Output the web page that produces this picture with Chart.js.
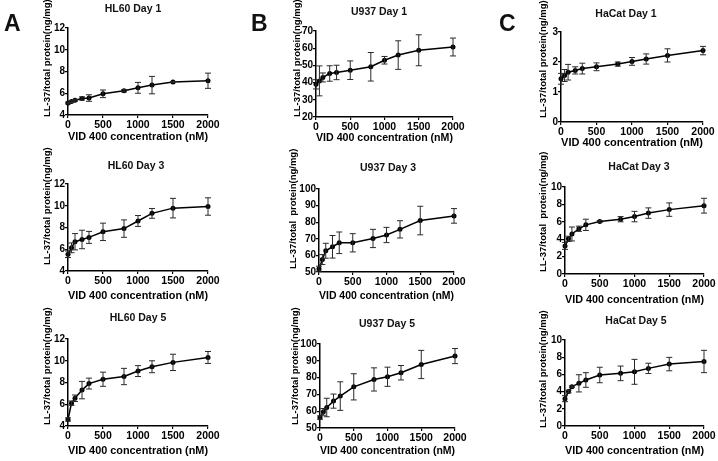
<!DOCTYPE html>
<html>
<head>
<meta charset="utf-8">
<script src="https://cdn.jsdelivr.net/npm/chart.js@4.4.0/dist/chart.umd.min.js"></script>
<style>
  body { margin: 0; background: #fff; width: 718px; height: 461px; position: relative; overflow: hidden; font-family: "Liberation Sans", Arial, sans-serif; }
  canvas { position: absolute; }
  .lbl { position: absolute; font-weight: bold; color: #111; white-space: nowrap; }
  .letter { font-size: 23px; line-height: 23px; }
  .ttl { font-size: 10.5px; line-height: 12px; width: 120px; text-align: center; }
</style>
</head>
<body>
<script>
// VID 400 doses (nM), same for every panel
const concentrations = [0, 50, 100, 200, 300, 500, 800, 1000, 1200, 1500, 2000];

// LL-37 / total protein (ng/mg), mean and error
const hl60Day1 = [5.1, 5.23, 5.35, 5.52, 5.56, 5.95, 6.22, 6.5, 6.75, 7.03, 7.15];
const hl60Day1Err = [0.08, 0.08, 0.08, 0.15, 0.3, 0.35, 0.1, 0.5, 0.8, 0.05, 0.7];
const u937Day1 = [39, 41, 43, 45.3, 45.9, 47.2, 49.2, 53, 56, 58.8, 60.7];
const u937Day1Err = [2.7, 8.7, 2.6, 4.5, 4.2, 5.4, 8.3, 2.2, 8.3, 9, 5.2];
const hacatDay1 = [1.44, 1.55, 1.66, 1.72, 1.78, 1.84, 1.93, 2.02, 2.1, 2.22, 2.38];
const hacatDay1Err = [0.18, 0.2, 0.26, 0.12, 0.18, 0.13, 0.07, 0.13, 0.17, 0.22, 0.14];

const hl60Day3 = [5.54, 6.13, 6.69, 6.9, 7.09, 7.6, 7.9, 8.6, 9.3, 9.78, 9.93];
const hl60Day3Err = [0.3, 0.45, 0.75, 0.85, 0.55, 0.8, 0.8, 0.5, 0.45, 0.9, 0.8];
const u937Day3 = [52, 57.5, 62.8, 65.2, 67.6, 67.6, 70.2, 72.3, 75.7, 81, 83.8];
const u937Day3Err = [1.5, 3, 4.5, 6.8, 6.5, 5.5, 5.5, 4.6, 5.2, 8.6, 4.4];
const hacatDay3 = [3.23, 4.04, 4.6, 5.2, 5.65, 6.04, 6.3, 6.6, 7.0, 7.4, 7.85];
const hacatDay3Err = [0.4, 0.3, 0.8, 0.3, 0.65, 0.1, 0.3, 0.6, 0.6, 0.77, 0.85];

const hl60Day5 = [4.6, 6.1, 6.55, 7.3, 7.9, 8.3, 8.55, 9.05, 9.45, 9.85, 10.3];
const hl60Day5Err = [0.15, 0.2, 0.3, 0.8, 0.5, 0.65, 0.75, 0.5, 0.55, 0.75, 0.55];
const u937Day5 = [56.2, 59.6, 62.2, 66, 69, 74.5, 78.9, 80.5, 82.9, 87.8, 92.8];
const u937Day5Err = [1, 2, 5.5, 4.2, 8.5, 7.8, 6.9, 5.7, 4.3, 8.4, 4.5];
const hacatDay5 = [3.18, 4.0, 4.57, 4.96, 5.35, 5.93, 6.12, 6.3, 6.7, 7.2, 7.5];
const hacatDay5Err = [0.35, 0.15, 0.1, 1.0, 0.85, 0.9, 0.85, 1.45, 0.6, 0.78, 1.3];

const xTitle = "VID 400 concentration (nM)";
const yTitle = "LL-37/total protein(ng/mg)";
const yTitleWide = "LL-37/total  protein(ng/mg)";
const panelLetters = ["A", "B", "C"];

const FONT = "Liberation Sans";

// plot box = [left, top, right, bottom] of the axes in page pixels
// dy/dx: distance of the y/x axis titles from the axes, yb: shift of the y title's foot
const panels = [
  { title: "HL60 Day 1", values: hl60Day1, errors: hl60Day1Err, yMin: 4, yMax: 12, yStep: 2, yLabel: yTitle, box: [68, 28, 208, 115], dy: 21, dx: 22, yb: 2, tx: 133, ty: 8 },
  { title: "U937 Day 1", values: u937Day1, errors: u937Day1Err, yMin: 20, yMax: 70, yStep: 10, yLabel: yTitle, box: [316, 31, 453, 117], dy: 18.5, dx: 21, yb: 0, tx: 379, ty: 11 },
  { title: "HaCat Day 1", values: hacatDay1, errors: hacatDay1Err, yMin: 0, yMax: 3, yStep: 1, yLabel: yTitle, box: [561, 32, 703, 122], dy: 18, dx: 21, yb: -4, tx: 626, ty: 13 },
  { title: "HL60 Day 3", values: hl60Day3, errors: hl60Day3Err, yMin: 4, yMax: 12, yStep: 2, yLabel: yTitle, box: [68, 184, 208, 271], dy: 21, dx: 25.5, yb: -6, tx: 136, ty: 165 },
  { title: "U937 Day 3", values: u937Day3, errors: u937Day3Err, yMin: 50, yMax: 100, yStep: 10, yLabel: yTitleWide, box: [319, 189, 454, 272], dy: 26, dx: 24.5, yb: -3, tx: 388, ty: 167 },
  { title: "HaCat Day 3", values: hacatDay3, errors: hacatDay3Err, yMin: 0, yMax: 10, yStep: 2, yLabel: yTitleWide, box: [565, 187, 704, 274], dy: 22, dx: 26, yb: -2, tx: 639, ty: 166 },
  { title: "HL60 Day 5", values: hl60Day5, errors: hl60Day5Err, yMin: 4, yMax: 12, yStep: 2, yLabel: yTitle, box: [68, 339, 208, 426], dy: 21, dx: 25.5, yb: -1, tx: 138, ty: 317 },
  { title: "U937 Day 5", values: u937Day5, errors: u937Day5Err, yMin: 50, yMax: 100, yStep: 10, yLabel: yTitle, box: [320, 344, 455, 428], dy: 25, dx: 23.5, yb: -3, tx: 387, ty: 323 },
  { title: "HaCat Day 5", values: hacatDay5, errors: hacatDay5Err, yMin: 0, yMax: 10, yStep: 2, yLabel: yTitle, box: [565, 340, 704, 426], dy: 22, dx: 25.5, yb: 2, tx: 636, ty: 320 },
];

// draws the +/- error bars with caps, using the chart's own scales
const errorBars = {
  id: "errorBars",
  afterDatasetsDraw(chart) {
    const { ctx, scales } = chart;
    const ds = chart.data.datasets[0];
    ctx.save();
    ctx.strokeStyle = "#2a2a2a";
    ctx.lineWidth = 1;
    ds.data.forEach((pt, i) => {
      const e = ds.errors[i];
      const px = scales.x.getPixelForValue(pt.x);
      const hi = scales.y.getPixelForValue(pt.y + e);
      const lo = scales.y.getPixelForValue(pt.y - e);
      ctx.beginPath();
      ctx.moveTo(px, hi);
      ctx.lineTo(px, lo);
      ctx.moveTo(px - 3, hi);
      ctx.lineTo(px + 3, hi);
      ctx.moveTo(px - 3, lo);
      ctx.lineTo(px + 3, lo);
      ctx.stroke();
    });
    ctx.restore();
  },
};

// y axis title: longer than the axis, so drawn here without the width limit
const sideTitle = {
  id: "sideTitle",
  afterDraw(chart, args, opts) {
    const { ctx, chartArea } = chart;
    ctx.save();
    ctx.translate(chartArea.left - opts.offset, chartArea.bottom + opts.foot);
    ctx.rotate(-Math.PI / 2);
    ctx.font = "bold 9.5px '" + FONT + "'";
    ctx.fillStyle = "#000";
    ctx.textAlign = "left";
    ctx.textBaseline = "middle";
    ctx.fillText(opts.text, 0, 0);
    ctx.restore();
  },
};

function addLabel(cls, text, left, top) {
  const d = document.createElement("div");
  d.className = "lbl " + cls;
  d.textContent = text;
  d.style.left = left + "px";
  d.style.top = top + "px";
  document.body.appendChild(d);
}

function drawPanel(p) {
  const [pl, pt, pr, pb] = p.box;
  const padTop = 40;
  const padRight = 14;
  const left = Math.round(pl - p.dy - 6);
  const top = pt - padTop;
  const yw = pl - left;
  const width = pr + padRight - left;
  const height = Math.round(pb + p.dx + 6.6) - top;
  const xScaleHeight = height - (pb - top);

  const canvas = document.createElement("canvas");
  canvas.width = width;
  canvas.height = height;
  canvas.style.left = left + "px";
  canvas.style.top = top + "px";
  document.body.appendChild(canvas);

  new Chart(canvas, {
    type: "line",
    data: {
      datasets: [
        {
          data: concentrations.map((c, i) => ({ x: c, y: p.values[i] })),
          errors: p.errors,
          borderColor: "#000",
          borderWidth: 1.5,
          pointRadius: 2.5,
          pointBackgroundColor: "#000",
          pointBorderWidth: 0,
          tension: 0,
          clip: false,
        },
      ],
    },
    options: {
      responsive: false,
      animation: false,
      events: [],
      layout: { padding: { top: padTop, right: padRight, left: 0, bottom: 0 } },
      plugins: {
        legend: { display: false },
        tooltip: { enabled: false },
        sideTitle: { text: p.yLabel, offset: p.dy, foot: p.yb },
      },
      scales: {
        x: {
          type: "linear",
          min: 0,
          max: 2000,
          afterFit(s) { s.height = xScaleHeight; },
          grid: { drawOnChartArea: false, drawTicks: true, tickLength: 3, color: "#000", lineWidth: 1.2 },
          border: { color: "#000", width: 1.5 },
          ticks: { stepSize: 500, color: "#000", padding: 1, maxRotation: 0, autoSkip: false, format: { useGrouping: false }, font: { family: FONT, size: 10.5, weight: "bold" } },
          title: { display: true, text: xTitle, color: "#000", padding: 0, font: { family: FONT, size: 11, weight: "bold" } },
        },
        y: {
          min: p.yMin,
          max: p.yMax,
          afterFit(s) { s.width = yw; },
          grid: { drawOnChartArea: false, drawTicks: true, tickLength: 3, color: "#000", lineWidth: 1.2 },
          border: { color: "#000", width: 1.5 },
          ticks: { stepSize: p.yStep, color: "#000", padding: 0, font: { family: FONT, size: 10, weight: "bold" } },
        },
      },
    },
    plugins: [errorBars, sideTitle],
  });

  addLabel("ttl", p.title, p.tx - 60, p.ty - 6);
}

panels.forEach(drawPanel);

addLabel("letter", panelLetters[0], 4, 12);
addLabel("letter", panelLetters[1], 251, 12);
addLabel("letter", panelLetters[2], 499, 12);
</script>
</body>
</html>
